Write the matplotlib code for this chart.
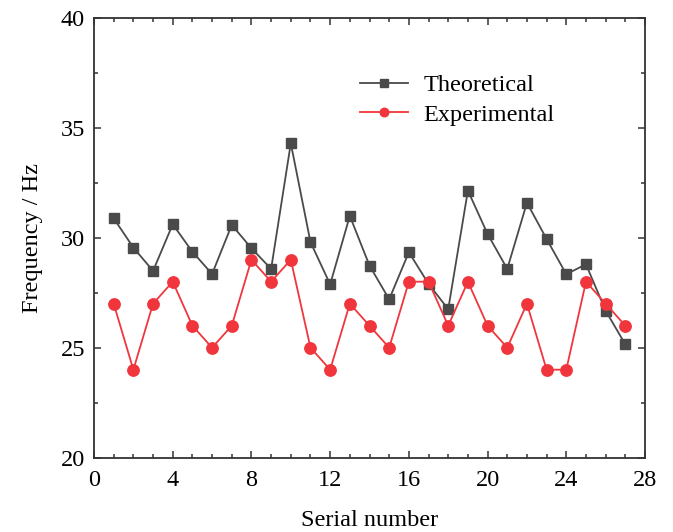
import matplotlib
matplotlib.use("Agg")
import matplotlib.pyplot as plt
from matplotlib.ticker import MultipleLocator

serial = list(range(1, 28))
theoretical = [30.88, 29.55, 28.49, 30.61, 29.36, 28.35, 30.58, 29.52, 28.58, 34.29,
               29.80, 27.88, 30.99, 28.73, 27.20, 29.34, 27.90, 26.75, 32.14, 30.17,
               28.58, 31.59, 29.94, 28.34, 28.79, 26.68, 25.15]
experimental = [27, 24, 27, 28, 26, 25, 26, 29, 28, 29, 25, 24, 27, 26, 25, 28, 28,
                26, 28, 26, 25, 27, 24, 24, 28, 27, 26]

plt.rcParams['font.family'] = ['Liberation Serif', 'DejaVu Serif']
plt.rcParams['mathtext.fontset'] = 'stix'

FS = 17.5

fig = plt.figure(figsize=(6.73, 5.32), dpi=100)
ax = fig.add_axes([0.1397, 0.1397, 0.8187, 0.827])

ax.plot(serial, theoretical, color='#4a4a4a', lw=1.3, marker='s', ms=7.2,
        label='Theoretical', zorder=3)
ax.plot(serial, experimental, color='#f0363c', lw=1.3, marker='o', ms=8.2,
        label='Experimental', zorder=4)

ax.set_xlim(0, 28)
ax.set_ylim(20, 40)
ax.xaxis.set_major_locator(MultipleLocator(4))
ax.xaxis.set_minor_locator(MultipleLocator(1))
ax.yaxis.set_major_locator(MultipleLocator(5))
ax.yaxis.set_minor_locator(MultipleLocator(2.5))
ax.tick_params(which='both', direction='in', top=True, right=True,
               labelsize=FS, color='#333333', width=1.1)
ax.tick_params(which='major', length=5)
ax.tick_params(which='minor', length=3)
ax.tick_params(axis='x', pad=9)
ax.tick_params(axis='y', pad=6.5)
for s in ax.spines.values():
    s.set_color('#333333')
    s.set_linewidth(1.3)

ax.set_xlabel('Serial number', fontsize=FS, labelpad=13.5)
ax.set_ylabel('Frequency / Hz', fontsize=FS, labelpad=12.5)

ax.legend(loc='upper left', bbox_to_anchor=(0.4825, 0.871), frameon=False,
          fontsize=FS, markerscale=0.75, handlelength=2.0, handletextpad=0.6,
          labelspacing=0.3, borderpad=0, borderaxespad=0)

fig.savefig('out.png', dpi=100)
